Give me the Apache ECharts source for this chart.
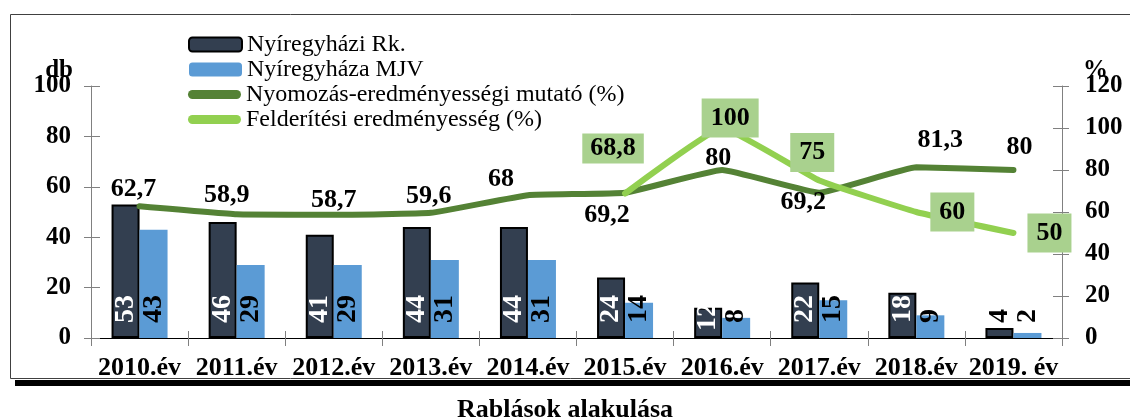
<!DOCTYPE html>
<html lang="hu">
<head>
    <meta charset="UTF-8">
    <title>Rablások alakulása</title>
    <script src="https://cdn.jsdelivr.net/npm/echarts@6/dist/echarts.min.js"></script>
    <style>
        html, body { margin:0; padding:0; background:#fff; }
        #chart { width:1130px; height:419px; }
    </style>
</head>
<body>
<div id="chart"></div>
<script>
    // adatok
    var years = ['2010.év','2011.év','2012.év','2013.év','2014.év','2015.év','2016.év','2017.év','2018.év','2019. év'];
    var rkValues = [53, 46, 41, 44, 44, 24, 12, 22, 18, 4];
    var mjvValues = [43, 29, 29, 31, 31, 14, 8, 15, 9, 2];
    var nyomozas = [62.7, 58.9, 58.7, 59.6, 68, 69.2, 80, 69.2, 81.3, 80];
    var felderites = [null, null, null, null, null, 68.8, 100, 75, 60, 50];
    var leftMax = 100, rightMax = 120, tickStep = 20;
    var leftUnit = 'db', rightUnit = '%';

    // cimke eltolasok (px)
    var nyOffset = [[-6,-17],[-10,-19],[0,-14],[-2,-17],[-27,-16],[-18,23],[-4,-12],[-16,10],[24,-27],[6,-23]];
    var feOffset = [null,null,null,null,null,[-12,-45],[8,-10],[-7,-28],[36,0],[36,0]];

    var FONT = 'Liberation Serif';
    function huNum(v){ return String(v).replace('.', ','); }

    var myChart = echarts.init(document.getElementById('chart'));

    var rkData = rkValues.map(function(v, i){
        var item = { value: v };
        if (i === rkValues.length - 1) item.label = { color: '#000' };
        if (i === 6) item.label = { distance: 7 };   // 2016: rovid oszlop
        return item;
    });
    var nyData = nyomozas.map(function(v, i){
        return { value: v, label: { offset: nyOffset[i] } };
    });
    var feData = felderites.map(function(v, i){
        if (v === null) return { value: null };
        return { value: v, label: { offset: feOffset[i], padding: i === 5 ? [2, 8, 2, 8] : [7, 9, 6, 9] } };
    });

    var barLabel = {
        show: true, position: 'insideBottom', rotate: 90, align: 'left', verticalAlign: 'middle',
        distance: 15, fontFamily: FONT, fontWeight: 'bold', fontSize: 28
    };
    var tickLabel = { color:'#000', fontFamily: FONT, fontWeight:'bold', fontSize: 25 };
    var unitStyle = { fill: '#000', fontFamily: FONT, fontWeight: 'bold', fontSize: 25, verticalAlign: 'middle' };

    var option = {
        animation: false,
        backgroundColor: '#fff',
        title: {
            text: 'Rablások alakulása', left: 'center', top: 392,
            textStyle: { fontFamily: FONT, fontWeight: 'bold', fontSize: 26, color: '#000' }
        },
        graphic: [
            { type: 'rect', z: -1, shape: { x: 10.5, y: 14.5, width: 1140, height: 364 },
              style: { fill: 'none', stroke: '#404040', lineWidth: 1 } },
            { type: 'rect', z: -1, shape: { x: 15, y: 380, width: 1130, height: 6 },
              style: { fill: '#000' } },
            { type: 'text', x: 73, y: 71, style: Object.assign({ text: leftUnit, align: 'right' }, unitStyle) },
            { type: 'text', x: 1083, y: 71, style: Object.assign({ text: rightUnit, align: 'left' }, unitStyle) }
        ],
        legend: [{
            orient: 'vertical', left: 188, top: 32, padding: 0, itemWidth: 53, itemHeight: 14, itemGap: 0,
            data: ['Nyíregyházi Rk.', 'Nyíregyháza MJV'],
            textStyle: { fontFamily: FONT, fontSize: 24, color: '#000', lineHeight: 25 }
        }, {
            orient: 'vertical', left: 188, top: 82, padding: 0, itemWidth: 53, itemHeight: 9, itemGap: 0,
            icon: 'path://M4.5,0 H48.5 A4.5,4.5 0 0 1 48.5,9 H4.5 A4.5,4.5 0 0 1 4.5,0 Z',
            data: ['Nyomozás-eredményességi mutató (%)', 'Felderítési eredményesség (%)'],
            textStyle: { fontFamily: FONT, fontSize: 24, color: '#000', lineHeight: 25 }
        }],
        grid: { left: 91, right: 68, top: 86, bottom: 81 },
        xAxis: [{
            type: 'category', data: years,
            axisLine: { lineStyle: { color: '#000', width: 1 } },
            axisTick: { show: true, length: 8, lineStyle: { color: '#808080' } },
            axisLabel: { interval: 0, color:'#000', fontFamily: FONT, fontWeight:'bold', fontSize: 26, margin: 17 }
        }, {
            type: 'category', data: years, position: 'bottom',
            axisLine: { show: false },
            axisTick: { show: true, inside: true, length: 7, lineStyle: { color: '#808080' } },
            axisLabel: { show: false }
        }],
        yAxis: [{
            type: 'value', min: 0, max: leftMax, interval: tickStep, position: 'left',
            axisLine: { show: true, lineStyle: { color: '#808080' } },
            axisTick: { show: true, length: 7, lineStyle: { color: '#808080' } },
            splitLine: { show: false },
            axisLabel: Object.assign({ margin: 20 }, tickLabel)
        }, {
            type: 'value', min: 0, max: rightMax, interval: tickStep, position: 'right',
            axisLine: { show: true, lineStyle: { color: '#808080' } },
            axisTick: { show: true, length: 7, lineStyle: { color: '#808080' } },
            splitLine: { show: false },
            axisLabel: Object.assign({ margin: 23 }, tickLabel)
        }, {
            type: 'value', min: 0, max: leftMax, interval: tickStep, position: 'left',
            axisLine: { show: false }, splitLine: { show: false }, axisLabel: { show: false },
            axisTick: { show: true, inside: true, length: 9, lineStyle: { color: '#808080' } }
        }, {
            type: 'value', min: 0, max: rightMax, interval: tickStep, position: 'right',
            axisLine: { show: false }, splitLine: { show: false }, axisLabel: { show: false },
            axisTick: { show: true, inside: true, length: 9, lineStyle: { color: '#808080' } }
        }],
        series: [{
            name: 'Nyíregyházi Rk.', type: 'bar', yAxisIndex: 0, data: rkData,
            barWidth: 28, barGap: '0%',
            itemStyle: { color: '#333f50', borderColor: '#000', borderWidth: 2 },
            label: Object.assign({ color: '#fff' }, barLabel)
        }, {
            name: 'Nyíregyháza MJV', type: 'bar', yAxisIndex: 0, data: mjvValues,
            barWidth: 28, barGap: '0%',
            itemStyle: { color: '#5b9bd5' },
            label: Object.assign({ color: '#000' }, barLabel)
        }, {
            name: 'Nyomozás-eredményességi mutató (%)', type: 'line', yAxisIndex: 1, data: nyData,
            smooth: 0.1, symbol: 'circle', symbolSize: 0, showSymbol: true,
            itemStyle: { color: '#548235' },
            lineStyle: { color: '#548235', width: 6, cap: 'round', join: 'round' },
            label: {
                show: true, position: 'inside', color: '#000', fontFamily: FONT, fontWeight: 'bold', fontSize: 26,
                formatter: function(p){ return huNum(p.value); }
            }
        }, {
            name: 'Felderítési eredményesség (%)', type: 'line', yAxisIndex: 1, data: feData,
            smooth: 0.1, symbol: 'circle', symbolSize: 0, showSymbol: true, connectNulls: false,
            itemStyle: { color: '#92d050' },
            lineStyle: { color: '#92d050', width: 6, cap: 'round', join: 'round' },
            label: {
                show: true, position: 'inside', color: '#000', backgroundColor: '#a9d18e',
                fontFamily: FONT, fontWeight: 'bold', fontSize: 26,
                formatter: function(p){ return huNum(p.value); }
            }
        }]
    };

    myChart.setOption(option);
</script>
</body>
</html>
